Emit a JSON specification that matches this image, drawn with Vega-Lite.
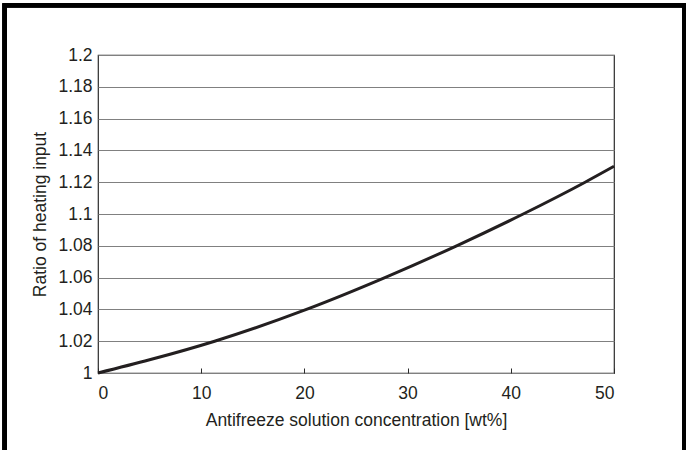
{
  "$schema": "https://vega.github.io/schema/vega-lite/v6.json",
  "width": 516,
  "height": 318,
  "autosize": "none",
  "padding": {"left": 98, "top": 55, "right": 72, "bottom": 77},
  "background": "white",
  "config": {
    "font": "Liberation Sans",
    "view": {"stroke": "#2b2b2b", "strokeWidth": 1.2}
  },
  "data": {
    "values": [
      {"conc": 0, "ratio": 1.0},
      {"conc": 5, "ratio": 1.0083},
      {"conc": 11.3, "ratio": 1.02},
      {"conc": 20.2, "ratio": 1.04},
      {"conc": 27.8, "ratio": 1.06},
      {"conc": 34.75, "ratio": 1.08},
      {"conc": 41.2, "ratio": 1.1},
      {"conc": 47.2, "ratio": 1.12},
      {"conc": 50, "ratio": 1.13}
    ]
  },
  "resolve": {"axis": {"x": "independent", "y": "independent"}},
  "layer": [
    {
      "mark": {"type": "line", "color": "#231f20", "strokeWidth": 3, "interpolate": "monotone"},
      "encoding": {
        "x": {
          "field": "conc",
          "type": "quantitative",
          "scale": {"domain": [0, 50], "nice": false, "zero": false},
          "axis": {
            "title": "Antifreeze solution concentration [wt%]",
            "values": [0, 10, 20, 30, 40, 50],
            "domain": false,
            "grid": false,
            "ticks": true,
            "tickSize": -5,
            "tickColor": "#2b2b2b",
            "labelFont": "Liberation Sans",
            "labelFontSize": 17.5,
            "labelColor": "#231f20",
            "labelOverlap": false,
            "labelPadding": 16,
            "titleFont": "Liberation Sans",
            "titleFontSize": 17.5,
            "titleFontWeight": "normal",
            "titleColor": "#231f20",
            "titlePadding": 10
          }
        },
        "y": {
          "field": "ratio",
          "type": "quantitative",
          "scale": {"domain": [1, 1.2], "nice": false, "zero": false},
          "axis": {
            "title": "Ratio of heating input",
            "values": [1, 1.02, 1.04, 1.06, 1.08, 1.1, 1.12, 1.14, 1.16, 1.18, 1.2],
            "format": "~g",
            "domain": false,
            "grid": true,
            "gridColor": "#808080",
            "gridOpacity": 1,
            "gridWidth": 1.2,
            "ticks": false,
            "labelFont": "Liberation Sans",
            "labelFontSize": 17.5,
            "labelColor": "#231f20",
            "labelOverlap": false,
            "labelPadding": 6,
            "titleFont": "Liberation Sans",
            "titleFontSize": 17.5,
            "titleFontWeight": "normal",
            "titleColor": "#231f20",
            "titlePadding": 8
          }
        }
      }
    },
    {
      "mark": {"type": "rect", "fill": null, "fillOpacity": 0, "stroke": "black", "strokeWidth": 4, "clip": false},
      "encoding": {
        "x": {"datum": -9.04, "type": "quantitative", "axis": null},
        "x2": {"datum": 56.81},
        "y": {"datum": 1.2313, "type": "quantitative", "axis": null},
        "y2": {"datum": 0.945}
      }
    }
  ]
}
